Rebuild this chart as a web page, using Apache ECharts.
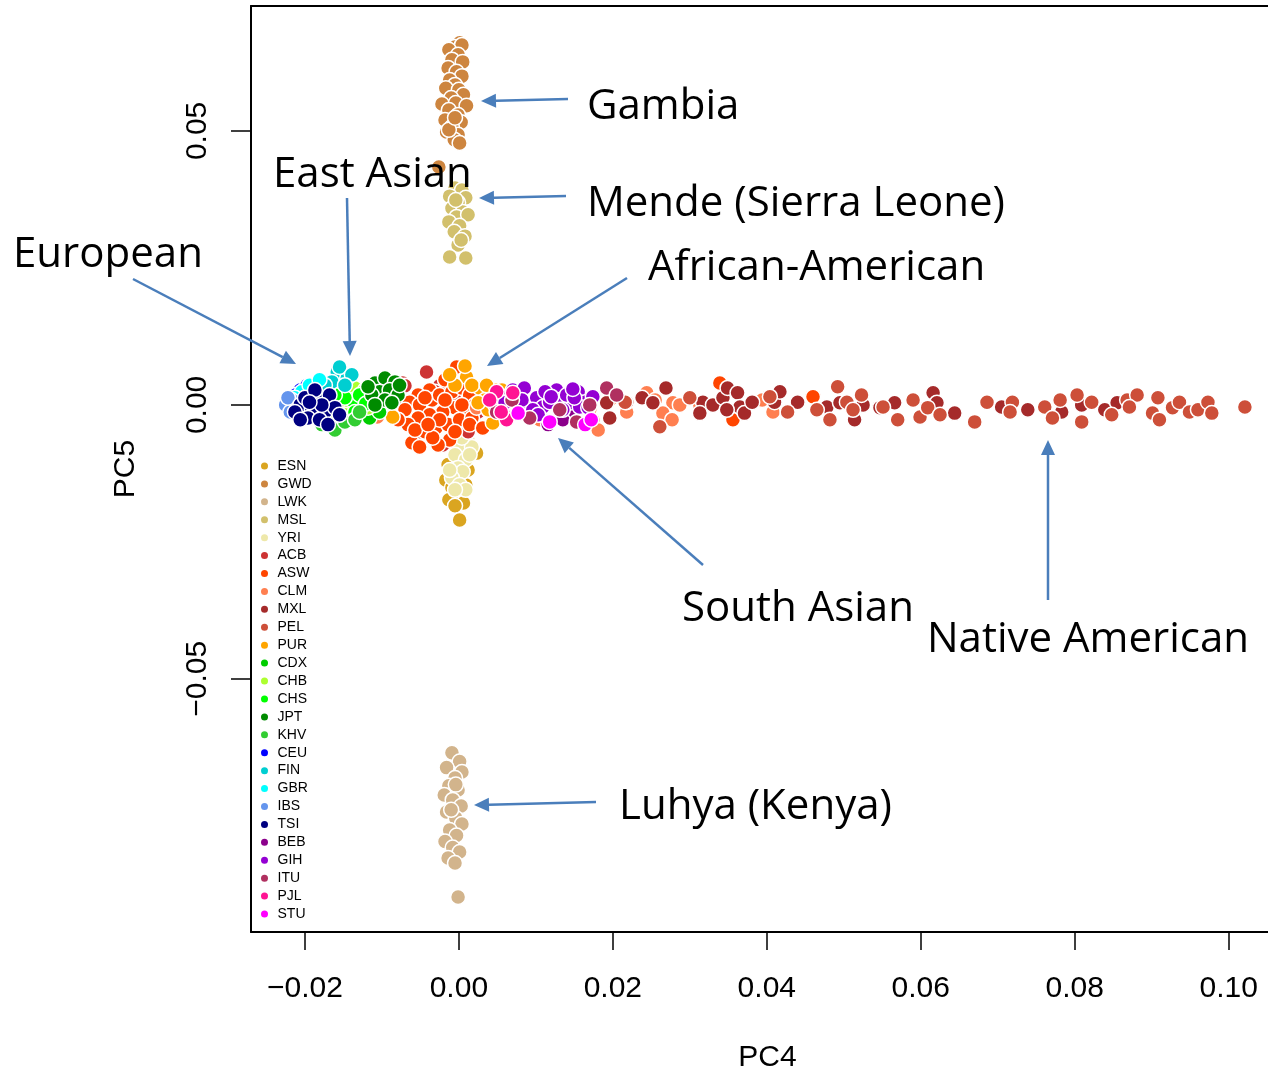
<!DOCTYPE html>
<html><head><meta charset="utf-8">
<script src="https://cdn.jsdelivr.net/npm/echarts@6/dist/echarts.min.js"></script>
<style>html,body{margin:0;padding:0;background:#fff}#c{width:1268px;height:1071px}</style>
</head><body><div id="c"></div>
<script>
const categories = ['ESN','GWD','LWK','MSL','YRI','ACB','ASW','CLM','MXL','PEL','PUR','CDX','CHB','CHS','JPT','KHV','CEU','FIN','GBR','IBS','TSI','BEB','GIH','ITU','PJL','STU'];
const xTicks = [-0.02, 0.00, 0.02, 0.04, 0.06, 0.08, 0.10];
const yTicks = [-0.05, 0.00, 0.05];

const ESN = [[-0.0014,-0.0109],[0.0017,-0.0091],[0.0012,-0.0119],[-0.0017,-0.0137],[-0.0009,-0.0151],[0.0009,-0.0146],[-0.0001,-0.0164],[-0.0013,-0.0173],[0.0006,-0.0179],[-0.0005,-0.0184],[0.0001,-0.0210],[0.0023,-0.0088]];
const GWD = [[0.0001,0.0661],[-0.0005,0.0653],[0.0004,0.0657],[-0.0013,0.0648],[-0.0001,0.0639],[-0.0009,0.0630],[0.0005,0.0626],[-0.0014,0.0615],[-0.0003,0.0608],[0.0004,0.0600],[-0.0012,0.0593],[-0.0005,0.0584],[-0.0017,0.0578],[0.0000,0.0575],[0.0006,0.0566],[-0.0010,0.0560],[-0.0022,0.0549],[-0.0004,0.0551],[0.0010,0.0546],[-0.0013,0.0538],[-0.0001,0.0529],[-0.0018,0.0520],[0.0003,0.0516],[-0.0009,0.0507],[-0.0016,0.0498],[-0.0001,0.0493],[-0.0006,0.0484],[0.0001,0.0478],[-0.0013,0.0502],[-0.0005,0.0524],[-0.0026,0.0434]];
const LWK = [[-0.0009,-0.0635],[0.0001,-0.0651],[-0.0016,-0.0662],[0.0004,-0.0670],[-0.0005,-0.0681],[-0.0013,-0.0695],[-0.0001,-0.0703],[-0.0019,-0.0712],[-0.0008,-0.0721],[0.0003,-0.0732],[-0.0016,-0.0743],[-0.0004,-0.0754],[0.0004,-0.0765],[-0.0012,-0.0776],[-0.0003,-0.0786],[-0.0018,-0.0797],[-0.0008,-0.0808],[0.0001,-0.0816],[-0.0014,-0.0827],[-0.0005,-0.0836],[-0.0001,-0.0898],[-0.0010,-0.0739],[-0.0004,-0.0693]];
const MSL = [[-0.0005,0.0396],[0.0004,0.0392],[-0.0012,0.0381],[0.0009,0.0378],[-0.0001,0.0369],[-0.0009,0.0359],[0.0005,0.0352],[-0.0003,0.0343],[0.0012,0.0347],[-0.0013,0.0334],[0.0001,0.0327],[-0.0006,0.0316],[0.0008,0.0308],[-0.0001,0.0292],[-0.0012,0.0270],[0.0009,0.0268],[0.0003,0.0301],[-0.0004,0.0374]];
const YRI = [[0.0008,-0.0018],[0.0014,-0.0036],[-0.0001,-0.0046],[0.0012,-0.0064],[0.0001,-0.0073],[0.0017,-0.0077],[-0.0005,-0.0091],[0.0009,-0.0100],[-0.0001,-0.0115],[0.0005,-0.0122],[-0.0009,-0.0133],[0.0001,-0.0146],[0.0009,-0.0155],[-0.0005,-0.0155],[0.0014,-0.0091],[0.0004,-0.0060],[0.0013,-0.0049],[-0.0012,-0.0119]];
const ACB = [[-0.0073,0.0040],[-0.0042,0.0060],[-0.0070,0.0035],[-0.0016,0.0046],[-0.0025,0.0035],[0.0004,0.0015],[-0.0051,-0.0049],[-0.0021,-0.0073],[-0.0031,0.0024],[-0.0005,0.0009],[0.0025,-0.0013],[-0.0038,-0.0036],[0.0012,-0.0049],[-0.0083,0.0009],[0.0040,0.0024],[0.0053,0.0000]];
const ASW = [[-0.0003,0.0069],[-0.0099,0.0005],[-0.0018,0.0046],[-0.0038,0.0027],[-0.0053,0.0018],[-0.0064,0.0005],[-0.0070,-0.0009],[-0.0051,0.0000],[-0.0035,0.0009],[-0.0025,0.0018],[-0.0009,0.0024],[0.0004,0.0031],[0.0014,0.0018],[0.0021,0.0000],[0.0012,-0.0009],[-0.0005,-0.0005],[-0.0021,-0.0013],[-0.0038,-0.0018],[-0.0053,-0.0024],[-0.0066,-0.0036],[-0.0061,-0.0069],[-0.0044,-0.0049],[-0.0030,-0.0042],[-0.0014,-0.0036],[0.0001,-0.0027],[0.0017,-0.0024],[-0.0012,-0.0064],[-0.0027,-0.0073],[-0.0051,-0.0077],[-0.0034,-0.0060],[0.0014,-0.0036],[0.0031,-0.0042],[-0.0018,0.0009],[-0.0044,0.0013],[-0.0079,-0.0027],[-0.0057,-0.0046],[0.0004,0.0000],[-0.0005,-0.0049],[-0.0025,-0.0027],[-0.0040,-0.0036],[0.0339,0.0040],[0.0356,-0.0027],[0.0460,0.0015],[0.0174,-0.0027]];
const CLM = [[0.0036,0.0015],[0.0023,-0.0005],[0.0051,0.0018],[0.0079,-0.0013],[0.0105,-0.0027],[0.0138,-0.0024],[0.0181,-0.0046],[0.0218,-0.0013],[0.0244,0.0022],[0.0278,0.0004],[0.0265,-0.0015],[0.0277,-0.0027],[0.0287,0.0000],[0.0394,0.0009],[0.0408,-0.0013],[-0.0106,-0.0022],[0.0196,0.0009],[0.0255,0.0009],[0.0170,-0.0009],[0.0313,0.0000]];
const MXL = [[0.0057,-0.0013],[0.0192,0.0004],[0.0196,-0.0024],[0.0218,0.0005],[0.0238,0.0013],[0.0252,0.0004],[0.0269,0.0031],[0.0317,0.0005],[0.0313,-0.0015],[0.0330,0.0000],[0.0343,0.0013],[0.0349,0.0031],[0.0362,0.0022],[0.0365,-0.0004],[0.0348,-0.0009],[0.0371,-0.0015],[0.0381,0.0005],[0.0410,0.0005],[0.0417,0.0024],[0.0440,0.0005],[0.0478,-0.0004],[0.0495,0.0004],[0.0514,-0.0027],[0.0525,0.0000],[0.0547,-0.0005],[0.0566,0.0004],[0.0616,0.0022],[0.0621,0.0004],[0.0644,-0.0015],[0.0705,-0.0004],[0.0739,-0.0009],[0.0783,-0.0013],[0.0809,0.0000],[0.0839,-0.0009],[0.0855,0.0004],[-0.0139,-0.0018],[-0.0113,-0.0009]];
const PEL = [[0.0261,-0.0040],[0.0404,0.0015],[0.0427,-0.0013],[0.0465,-0.0009],[0.0482,-0.0027],[0.0492,0.0033],[0.0504,0.0005],[0.0512,-0.0009],[0.0523,0.0018],[0.0551,-0.0004],[0.0570,-0.0027],[0.0590,0.0009],[0.0599,-0.0022],[0.0609,-0.0005],[0.0625,-0.0018],[0.0670,-0.0031],[0.0686,0.0005],[0.0719,0.0005],[0.0716,-0.0013],[0.0761,-0.0004],[0.0771,-0.0024],[0.0781,0.0009],[0.0803,0.0018],[0.0822,0.0005],[0.0809,-0.0031],[0.0848,-0.0018],[0.0868,0.0009],[0.0881,0.0018],[0.0871,-0.0004],[0.0908,0.0013],[0.0901,-0.0015],[0.0910,-0.0027],[0.0927,-0.0005],[0.0936,0.0005],[0.0949,-0.0013],[0.0960,-0.0009],[0.0973,0.0005],[0.0978,-0.0015],[0.1021,-0.0004],[0.0216,0.0005],[0.0300,0.0013]];
const PUR = [[0.0010,0.0051],[0.0027,0.0031],[0.0008,0.0071],[-0.0086,-0.0022],[0.0044,-0.0033],[0.0049,0.0027],[0.0056,0.0027],[0.0034,0.0009],[0.0017,0.0036],[0.0038,-0.0009],[-0.0005,0.0036],[0.0025,0.0004],[0.0066,0.0013],[-0.0012,0.0055],[0.0036,0.0036]];
const CDX = [[-0.0126,-0.0009],[-0.0116,-0.0024],[-0.0142,-0.0024],[-0.0103,-0.0013],[-0.0122,0.0009],[-0.0148,-0.0009]];
const CHB = [[-0.0155,0.0027],[-0.0144,0.0018],[-0.0135,0.0031],[-0.0126,0.0013],[-0.0142,0.0000],[-0.0131,-0.0009],[-0.0148,-0.0018],[-0.0122,0.0027],[-0.0113,0.0009],[-0.0157,0.0005],[-0.0135,-0.0024],[-0.0118,-0.0005]];
const CHS = [[-0.0139,0.0009],[-0.0129,0.0018],[-0.0148,0.0013],[-0.0121,0.0002],[-0.0161,0.0018],[-0.0135,-0.0013]];
const JPT = [[-0.0109,0.0040],[-0.0096,0.0049],[-0.0083,0.0042],[-0.0103,0.0024],[-0.0090,0.0027],[-0.0113,0.0018],[-0.0079,0.0018],[-0.0096,0.0009],[-0.0109,0.0000],[-0.0087,0.0004],[-0.0118,0.0033],[-0.0077,0.0036]];
const KHV = [[-0.0178,-0.0036],[-0.0161,-0.0046],[-0.0148,-0.0031],[-0.0170,-0.0024],[-0.0135,-0.0027],[-0.0155,-0.0018],[-0.0129,-0.0013]];
const CEU = [[-0.0206,0.0027],[-0.0197,0.0036],[-0.0187,0.0031],[-0.0178,0.0036],[-0.0212,0.0018],[-0.0191,0.0018],[-0.0170,0.0024],[-0.0200,0.0005],[-0.0219,0.0009]];
const FIN = [[-0.0158,0.0060],[-0.0145,0.0049],[-0.0165,0.0042],[-0.0155,0.0069],[-0.0139,0.0055],[-0.0174,0.0036],[-0.0148,0.0036]];
const GBR = [[-0.0204,0.0024],[-0.0194,0.0036],[-0.0181,0.0046],[-0.0213,0.0013]];
const IBS = [[-0.0225,0.0000],[-0.0217,0.0009],[-0.0219,-0.0013],[-0.0210,-0.0005],[-0.0222,0.0013]];
const TSI = [[-0.0206,0.0000],[-0.0200,0.0013],[-0.0191,-0.0009],[-0.0183,0.0009],[-0.0174,-0.0013],[-0.0168,0.0018],[-0.0196,-0.0024],[-0.0181,-0.0027],[-0.0213,-0.0013],[-0.0161,-0.0005],[-0.0187,0.0027],[-0.0206,-0.0027],[-0.0170,-0.0036],[-0.0155,-0.0018],[-0.0178,0.0000],[-0.0194,0.0005]];
const BEB = [[0.0116,-0.0036],[0.0135,-0.0027],[0.0079,-0.0009],[0.0047,0.0000],[0.0105,-0.0018],[0.0151,-0.0013],[0.0066,0.0018]];
const GIH = [[0.0062,0.0005],[0.0079,0.0015],[0.0092,0.0004],[0.0088,-0.0015],[0.0101,0.0013],[0.0109,-0.0004],[0.0127,0.0027],[0.0131,0.0009],[0.0144,0.0004],[0.0155,0.0024],[0.0164,0.0005],[0.0174,0.0015],[0.0140,0.0018],[0.0118,0.0005],[0.0157,-0.0004],[0.0096,-0.0009],[0.0060,0.0004],[0.0077,-0.0015],[0.0070,0.0027],[0.0085,0.0031],[0.0112,0.0024],[0.0120,0.0015],[0.0135,-0.0009],[0.0150,0.0013],[0.0168,-0.0005],[0.0103,-0.0018],[0.0082,0.0009],[0.0148,0.0029]];
const ITU = [[0.0192,0.0031],[0.0205,0.0018],[0.0153,-0.0031],[0.0049,-0.0013],[0.0092,-0.0024],[0.0131,-0.0009],[0.0170,0.0000],[0.0069,0.0009]];
const PJL = [[0.0049,0.0024],[0.0070,0.0022],[0.0062,-0.0027],[0.0040,0.0009],[0.0055,-0.0013]];
const STU = [[0.0164,-0.0036],[0.0077,-0.0015],[0.0118,-0.0031],[0.0172,-0.0027]];

const seriesData = {ESN,GWD,LWK,MSL,YRI,ACB,ASW,CLM,MXL,PEL,PUR,CDX,CHB,CHS,JPT,KHV,CEU,FIN,GBR,IBS,TSI,BEB,GIH,ITU,PJL,STU};

const palette = {ESN:'#DAA520',GWD:'#CD853F',LWK:'#D2B48C',MSL:'#D2C06C',YRI:'#EEE8AA',ACB:'#CD3333',ASW:'#FF4500',CLM:'#FF7F50',MXL:'#A52A2A',PEL:'#CD4F39',PUR:'#FFA500',CDX:'#00CD00',CHB:'#ADFF2F',CHS:'#00FF00',JPT:'#008B00',KHV:'#32CD32',CEU:'#0000FF',FIN:'#00CED1',GBR:'#00FFFF',IBS:'#6495ED',TSI:'#000080',BEB:'#8B008B',GIH:'#9400D3',ITU:'#B03060',PJL:'#FF1493',STU:'#FF00FF'};

// annotation layout (pixels)
const notes = [
  {text:'Gambia', x:587, y:107, tail:[568,99], head:[481,101]},
  {text:'East Asian', x:273, y:175, tail:[347,198], head:[350,356]},
  {text:'Mende (Sierra Leone)', x:587, y:204, tail:[566,196], head:[479,198]},
  {text:'European', x:13, y:255, tail:[133,279], head:[296,364]},
  {text:'African-American', x:648, y:268, tail:[627,278], head:[487,366]},
  {text:'South Asian', x:682, y:609, tail:[703,565], head:[558,438]},
  {text:'Native American', x:927, y:640, tail:[1048,600], head:[1048,440]},
  {text:'Luhya (Kenya)', x:619, y:807, tail:[596,802], head:[474,805]}
];
const arrowColor = '#4A7EBB';
const graphics = [];
notes.forEach(n => {
  const [x1,y1] = n.tail, [x2,y2] = n.head;
  const dx = x2-x1, dy = y2-y1, L = Math.hypot(dx,dy), ux = dx/L, uy = dy/L;
  const hl = 15, hw = 7;
  const bx = x2-ux*hl, by = y2-uy*hl;
  graphics.push({type:'line', z:100, shape:{x1:x1,y1:y1,x2:bx,y2:by}, style:{stroke:arrowColor, lineWidth:2.5}});
  graphics.push({type:'polygon', z:100, shape:{points:[[x2,y2],[bx-uy*hw,by+ux*hw],[bx+uy*hw,by-ux*hw]]}, style:{fill:arrowColor}});
  graphics.push({type:'text', z:101, x:n.x, y:n.y, style:{text:n.text, fill:'#000', font:'42px "Open Sans"', textVerticalAlign:'middle', textAlign:'left'}});
});

const fmt = v => (v < 0 ? '\u2212' : '') + Math.abs(v).toFixed(2);
const axisFont = {fontFamily:'"Liberation Sans", Arial, sans-serif', fontSize:30, color:'#000'};
const xMin = -0.027, xMax = 0.1051, yMin = -0.0962, yMax = 0.0728;

const chart = echarts.init(document.getElementById('c'), null, {renderer:'canvas'});
chart.setOption({
  animation:false,
  backgroundColor:'#fff',
  grid:{left:251, top:6, right:0, bottom:139, show:false, containLabel:false, outerBoundsMode:'none'},
  xAxis:[{type:'value', min:xMin, max:xMax, name:'PC4', nameLocation:'middle', nameGap:111,
    nameTextStyle:{...axisFont, padding:[0,0,0,16]},
    axisLine:{show:true, onZero:false, lineStyle:{color:'#000', width:2}},
    axisTick:{show:true, customValues:xTicks, length:18, lineStyle:{color:'#000', width:1.5}},
    axisLabel:{customValues:xTicks, formatter:fmt, margin:42, ...axisFont},
    splitLine:{show:false}},
   {type:'value', position:'top', min:xMin, max:xMax,
    axisLine:{show:true, onZero:false, lineStyle:{color:'#000', width:2}},
    axisTick:{show:false}, axisLabel:{show:false}, splitLine:{show:false}}],
  yAxis:{type:'value', min:yMin, max:yMax, name:'PC5', nameLocation:'middle', nameGap:110,
    nameTextStyle:axisFont,
    axisLine:{show:true, onZero:false, lineStyle:{color:'#000', width:2}},
    axisTick:{show:true, customValues:yTicks, length:20, lineStyle:{color:'#000', width:1.5}},
    axisLabel:{customValues:yTicks, formatter:fmt, margin:38, rotate:90, ...axisFont},
    splitLine:{show:false}},
  legend:{data:categories, orient:'vertical', left:256, top:454, padding:5, icon:'circle', itemWidth:16, itemHeight:7, itemGap:3.92,
    itemStyle:{borderWidth:0},
    textStyle:{fontFamily:'"Liberation Sans", Arial, sans-serif', fontSize:14, lineHeight:14, color:'#000'},
    selectedMode:false},
  graphic:graphics,
  series: categories.map(c => ({
    name:c, type:'scatter', data:seriesData[c], symbol:'circle', symbolSize:15,
    itemStyle:{color:palette[c], borderColor:'#fff', borderWidth:1.5, opacity:1},
    emphasis:{disabled:true}
  }))
});
</script></body></html>
